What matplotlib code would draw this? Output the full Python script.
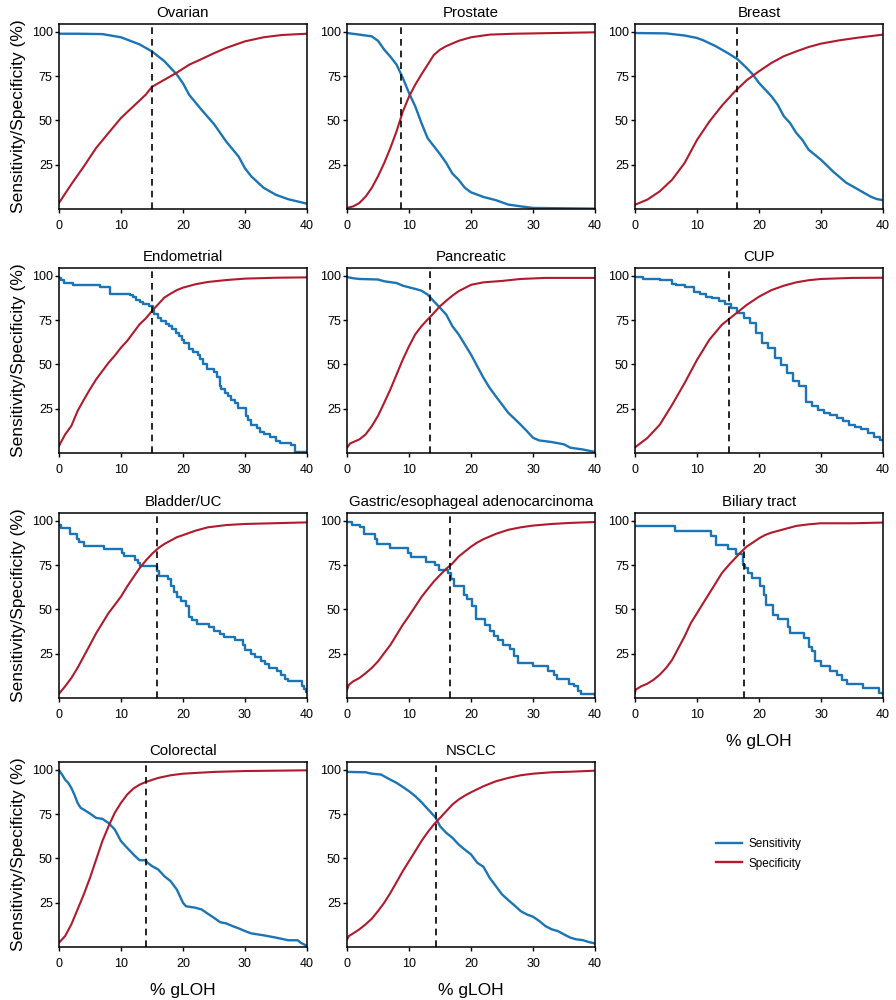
import matplotlib
matplotlib.use("Agg")
import matplotlib.pyplot as plt
from matplotlib.lines import Line2D

plt.rcParams['font.family'] = ['Liberation Sans', 'DejaVu Sans']

BLUE = '#1a74b6'
RED = '#b01a2c'

# ---- data ----
# Ovarian
ov_sens_x = [0, 3, 7, 10, 13, 15, 17, 19, 20, 21, 23, 25, 27, 29, 30, 31, 33, 35, 37, 40]
ov_sens_y = [99, 99, 98.8, 97, 93, 89, 83.5, 76, 71, 64.5, 56, 48, 38, 29.5, 23, 18.5, 12, 8, 5.5, 3]
ov_spec_x = [0, 2, 4, 6, 8, 10, 12, 14, 15, 17, 19, 21, 23, 25, 27, 30, 33, 36, 40]
ov_spec_y = [3.4, 14, 24, 34.5, 43, 51.4, 58, 64.6, 69, 73, 77, 81.5, 84.7, 88, 91, 94.7, 97, 98.3, 99]

# Prostate
pr_sens_x = [0, 2, 4, 5, 6, 7, 8, 9, 10, 11, 12, 13, 14, 15, 16, 17, 18, 19, 20, 22, 24, 26, 28, 30, 40]
pr_sens_y = [99.4, 98.5, 97.5, 95, 90, 86, 81.5, 74, 65.5, 58, 48.6, 40, 35.5, 31, 26, 20, 16.5, 12, 9.4, 6.8, 5, 2.5, 1.5, 0.6, 0.2]
pr_spec_x = [0, 1, 2, 3, 4, 5, 6, 7, 8, 9, 10, 11, 12, 13, 14, 15, 16, 18, 20, 23, 27, 40]
pr_spec_y = [0.6, 1.5, 3.4, 7, 12, 18.5, 26, 34.5, 44, 55, 63.5, 70.2, 76, 81.5, 87, 90, 92, 95, 97, 98.5, 99, 99.8]

# Breast
br_sens_x = [0, 5, 8, 10, 11, 13, 15, 16.5, 18, 19, 20, 22, 23, 24, 25, 26, 27, 28, 30, 32, 34, 36, 38, 39, 40]
br_sens_y = [99.4, 99.2, 98, 96.6, 95.3, 92, 88, 84.7, 79.7, 76, 71.2, 63.7, 59, 52.4, 48.6, 43, 39, 33.5, 27.8, 21, 15, 11, 7, 5.6, 5]
br_spec_x = [0, 2, 4, 6, 8, 10, 12, 14, 16, 18, 20, 22, 24, 26, 28, 30, 33, 36, 40]
br_spec_y = [2.4, 5.3, 10, 16.6, 26, 39, 49.4, 58.3, 66, 72.7, 77.8, 82.5, 86.3, 89, 91.5, 93.4, 95.3, 96.8, 98.5]

# Endometrial (sensitivity as steps)
en_sens_x = [0, 0.4, 0.8, 2.2, 6.6, 8.3, 11.5, 12, 12.5, 13, 13.6, 14.5, 15.1, 15.4, 15.9, 16.5, 17.2, 17.8,
             18.3, 18.8, 19.3, 19.8, 20.2, 21, 21.6, 22.4, 22.8, 23.3, 23.8, 25, 25.5, 25.9, 26.2, 26.8, 27.3,
             27.8, 28.4, 28.8, 30.2, 30.5, 31, 32, 32.5, 33, 34, 35, 35.6, 37.4, 38, 40]
en_sens_y = [99, 97.5, 96, 95, 93.5, 90, 89, 88, 86.5, 85.5, 84, 83, 81, 78.5, 76, 74.5, 73, 72,
             70, 68, 66, 64, 62, 59, 57, 55.5, 53, 50, 47.5, 45.5, 43, 38, 36, 34, 32,
             30, 28, 25.5, 21, 18.5, 16, 14, 12, 10.5, 9, 7, 5.5, 4.5, 0.5, 0.5]
en_spec_x = [0, 1, 2, 3, 4, 5, 6, 7, 8, 9, 10, 11, 12, 13, 14, 15, 16, 17, 18, 19, 20, 22, 24, 27, 30, 35, 40]
en_spec_y = [4, 10.5, 15.3, 23.7, 30, 36, 41.6, 46.3, 51, 55, 59.5, 63.3, 68, 72.7, 76, 80.2, 84, 87.8, 90, 92, 93.4,
             95.3, 96.6, 97.7, 98.5, 99, 99.2]

# Pancreatic
pa_sens_x = [0, 1, 2, 5, 6, 8, 9, 10, 11, 12, 13, 14, 15, 16, 17, 18, 19, 20, 21, 22, 23, 24, 25, 26, 27, 28,
             29, 30, 31, 33, 35, 36, 38, 40]
pa_sens_y = [99.4, 98.7, 98.3, 98, 97, 96, 94.5, 93.6, 92.7, 91.7, 89.5, 85.7, 82, 78.2, 71.6, 67, 61.3, 55.6,
             49, 42.5, 36.8, 32, 27.4, 22.7, 19.4, 16, 12.4, 8.6, 7.1, 6.2, 4.9, 3, 2, 0.6]
pa_spec_x = [0, 0.5, 2, 3, 4, 5, 6, 7, 8, 9, 10, 11, 12, 13, 14, 15, 16, 17, 18, 19, 20, 22, 25, 28, 32, 40]
pa_spec_y = [3, 5.4, 7.7, 10.5, 15.2, 21, 28.4, 36, 44.4, 52.8, 60.3, 67, 71.6, 75.4, 79.1, 82.9, 86, 88.9,
             91.4, 93.2, 95, 96.4, 97.2, 98.3, 98.9, 98.9]

# CUP
cu_sens_x = [0, 2.5, 5.7, 6.2, 7, 9, 10, 11, 12, 13, 14, 15, 16, 17, 18, 19, 20, 21, 22, 23, 24, 25, 26, 27,
             28, 29, 30, 31, 32, 33, 34, 35, 36, 37, 38, 39, 40]
cu_sens_y = [99.2, 98.3, 97.7, 95.3, 94.7, 94, 91.2, 89.7, 88.3, 87.4, 85.9, 84, 81.8, 78.9, 76, 73.3, 67.7,
             62, 59.2, 53.6, 49.8, 45, 40.4, 37.6, 29, 26.3, 24.4, 22.6, 21.2, 20, 17.9, 16, 14.5, 13.5, 11.3,
             8.8, 7.5]
cu_spec_x = [0, 2, 4, 6, 8, 10, 12, 14, 15.2, 16, 18, 20, 22, 24, 26, 28, 30, 35, 40]
cu_spec_y = [3.2, 8.5, 16, 27.3, 39.5, 52.6, 64, 72.4, 75.8, 78, 83.6, 88.3, 92, 94.5, 96.4, 97.6, 98.3, 98.9, 99]

# Bladder/UC (sensitivity as steps)
bl_sens_x = [0, 0.3, 1.8, 2.9, 3.3, 4, 7.3, 10.2, 10.5, 12.3, 12.8, 13.1, 15.8, 16.2, 17.6, 18, 18.5, 19,
             19.7, 20.5, 20.9, 21.5, 22.3, 24.2, 25, 26, 26.6, 28.4, 29.7, 30, 31, 31.6, 32.6, 33.3, 33.8,
             35.2, 35.8, 36.4, 37, 39.2, 39.6, 39.9, 40]
bl_sens_y = [98, 96, 92.5, 90, 88, 86, 84, 82, 80, 78, 76, 74.5, 72, 69, 67, 63.5, 60, 57,
             55, 52, 46, 44, 42, 40, 38, 36, 34.5, 32.5, 30, 27, 25, 23, 21, 19, 17,
             15.5, 13, 11, 9.5, 7, 5, 3.5, 3.5]
bl_spec_x = [0, 1, 2, 3, 4, 5, 6, 7, 8, 9, 10, 11, 12, 13, 14, 15, 16, 17, 18, 19, 20, 22, 24, 27, 30, 40]
bl_spec_y = [2.4, 6.6, 11.3, 17, 23.5, 30, 36.6, 42.3, 48, 52.6, 57.3, 63, 68.2, 73.3, 77.6, 81.4, 84.6, 87,
             88.9, 90.8, 92, 94.5, 96.4, 97.7, 98.3, 99.2]

# Gastric/esophageal adenocarcinoma (sensitivity as steps)
ga_sens_x = [0, 0.8, 2.1, 2.7, 4.5, 4.9, 7, 9.8, 10.3, 12.8, 14.2, 14.8, 16.3, 16.8, 17.3, 18.8, 19.4, 20.2,
             20.8, 22.3, 23, 23.7, 24.4, 25.2, 26.3, 27, 27.5, 30, 32.4, 33.4, 33.8, 35.8, 36.6, 37.2, 37.8, 40]
ga_sens_y = [99.2, 98, 96.5, 92.5, 90, 87, 85, 82, 79.5, 77, 75, 72.5, 70.5, 67, 63, 58, 56, 52,
             44.5, 41, 38, 35, 33, 30, 27.5, 24, 20, 18, 15, 13, 10.5, 8, 6.5, 4, 2, 1.5]
ga_spec_x = [0, 0.3, 1, 2, 3, 4, 5, 6, 7, 8, 9, 10, 11, 12, 13, 14, 15, 16, 17, 18, 19, 20, 21, 22, 24, 26,
             28, 30, 33, 36, 40]
ga_spec_y = [4.7, 7.5, 9.4, 11.3, 14, 17, 20.7, 25.4, 30, 35.7, 41.4, 46.4, 51.7, 57, 61.5, 65.8, 69.5, 73,
             76, 79.9, 82.7, 85.5, 87.8, 89.7, 92.7, 95, 96.4, 97.4, 98.3, 98.9, 99.4]

# Biliary tract (sensitivity as steps)
bi_sens_x = [0, 6.5, 12.3, 13, 15, 16.3, 17.4, 17.8, 18.3, 18.8, 20.1, 20.8, 21.2, 22.3, 23, 24.6, 25, 27.3,
             28, 28.6, 29, 30, 31.5, 32.5, 33.4, 34.2, 36.8, 39.3, 40]
bi_sens_y = [97.4, 94.4, 91.7, 86.5, 84, 81.2, 75, 73.3, 70.6, 68, 63, 58, 52.6, 47, 44.5, 40, 36.8, 34,
             29, 26.6, 21, 18.2, 15.5, 13, 10.3, 8, 5.4, 3, 2]
bi_spec_x = [0, 0.1, 1, 2, 3, 4, 5, 6, 7, 8, 9, 10, 11, 12, 13, 14, 15, 16, 17, 18, 19, 20, 21, 22, 24, 26,
             28, 30, 35, 40]
bi_spec_y = [2.8, 4.7, 6.6, 8.1, 10.3, 13.2, 16.9, 21.6, 28.2, 34.8, 42.3, 47.9, 53.6, 59.2, 64.8, 70.5,
             74.6, 78.4, 82.1, 85.5, 87.8, 90.2, 92.1, 93.4, 95.3, 97.2, 98.1, 98.7, 98.7, 99.1]

# Colorectal
co_sens_x = [0, 0.5, 1, 1.5, 2, 2.5, 3, 3.5, 4, 5, 6, 7, 8, 9, 10, 10.5, 11, 12, 13, 14, 14.3, 15, 16, 17,
             18, 19, 20, 20.5, 22, 23, 24, 25, 26, 27, 28, 29, 30, 31, 33, 35, 37, 38.5, 39, 40]
co_sens_y = [99.8, 97.4, 94.5, 92.7, 89.8, 86, 81.4, 78.6, 77.6, 75.4, 72.9, 72.4, 70, 66.4, 59.8, 57.9, 56,
             52.3, 49, 49, 47.6, 45.7, 43.8, 40, 37.2, 32.5, 25, 23, 22.2, 21.2, 18.8, 16.5, 14, 13.3, 11.8,
             10.5, 9, 7.7, 6.6, 5.3, 3.8, 3.8, 2.4, 0.6]
co_spec_x = [0, 1, 2, 3, 4, 5, 6, 7, 8, 9, 10, 11, 12, 13, 14, 16, 18, 20, 25, 30, 40]
co_spec_y = [2.4, 6.2, 12.8, 21.2, 29.7, 39, 49.4, 59.8, 68.2, 75.8, 81.4, 86.1, 89.5, 91.7, 93.2, 95.5, 97,
             97.9, 98.9, 99.4, 99.8]

# NSCLC
ns_sens_x = [0, 3, 4, 5.5, 6, 7, 8, 9, 10, 11, 12, 13, 14, 14.3, 15, 16, 17, 18, 19, 20, 21, 22, 23, 24, 25,
             26, 27, 28, 29, 30, 31, 32, 33, 34, 35, 36, 37, 38, 39, 40]
ns_sens_y = [98.9, 98.7, 97.9, 97.4, 96.4, 94.5, 92.7, 90.4, 88, 85.2, 81.8, 78, 74.2, 73, 68.2, 64.5, 61.7,
             57.9, 55, 52.3, 47.6, 45.3, 39.1, 34.4, 29.7, 26.5, 23.5, 20.3, 18.4, 17.1, 14.7, 11.8, 10, 9,
             7.1, 5.3, 4.3, 3.9, 2.8, 2]
ns_spec_x = [0, 0.3, 1, 2, 3, 4, 5, 6, 7, 8, 9, 10, 11, 12, 13, 14, 15, 16, 17, 18, 19, 20, 22, 24, 26, 28,
             30, 33, 36, 40]
ns_spec_y = [4.3, 6.2, 7.7, 10, 12.8, 16, 20.3, 25, 30.6, 36.7, 42.9, 48.5, 54.1, 59.8, 64.8, 69.2, 72.9,
             76.7, 80.5, 83.3, 85.5, 87.4, 90.8, 93.6, 95.5, 97, 97.9, 98.7, 99, 99.6]

titles = ['Ovarian', 'Prostate', 'Breast', 'Endometrial', 'Pancreatic', 'CUP',
          'Bladder/UC', 'Gastric/esophageal adenocarcinoma', 'Biliary tract', 'Colorectal', 'NSCLC']
cutoffs = [15, 8.7, 16.5, 15, 13.4, 15.2, 15.8, 16.6, 17.5, 14.1, 14.3]

panels = [
    (ov_sens_x, ov_sens_y, ov_spec_x, ov_spec_y, 'default'),
    (pr_sens_x, pr_sens_y, pr_spec_x, pr_spec_y, 'default'),
    (br_sens_x, br_sens_y, br_spec_x, br_spec_y, 'default'),
    (en_sens_x, en_sens_y, en_spec_x, en_spec_y, 'steps-post'),
    (pa_sens_x, pa_sens_y, pa_spec_x, pa_spec_y, 'default'),
    (cu_sens_x, cu_sens_y, cu_spec_x, cu_spec_y, 'steps-mid'),
    (bl_sens_x, bl_sens_y, bl_spec_x, bl_spec_y, 'steps-post'),
    (ga_sens_x, ga_sens_y, ga_spec_x, ga_spec_y, 'steps-post'),
    (bi_sens_x, bi_sens_y, bi_spec_x, bi_spec_y, 'steps-post'),
    (co_sens_x, co_sens_y, co_spec_x, co_spec_y, 'default'),
    (ns_sens_x, ns_sens_y, ns_spec_x, ns_spec_y, 'default'),
]

fig = plt.figure(figsize=(8.96, 10), dpi=100)

col_left = [0.0658, 0.3873, 0.7087]
row_bottom = [0.791, 0.547, 0.302, 0.053]
w, h = 0.2768, 0.185

for i, (sx, sy, px, py, ds) in enumerate(panels):
    r, c = divmod(i, 3)
    ax = fig.add_axes([col_left[c], row_bottom[r], w, h])
    ax.plot(sx, sy, color=BLUE, lw=1.7, drawstyle=ds)
    ax.plot(px, py, color=RED, lw=1.5)
    ax.axvline(cutoffs[i], color='black', lw=1.2, ls=(0, (4, 3)))
    ax.set_xlim(0, 40)
    ax.set_ylim(0, 104.5)
    ax.set_xticks([0, 10, 20, 30, 40])
    ax.set_yticks([25, 50, 75, 100])
    ax.tick_params(direction='out', length=3, width=1, labelsize=9)
    ax.tick_params(axis='y', pad=1.5)
    ax.tick_params(axis='x', pad=5)
    for s in ax.spines.values():
        s.set_linewidth(1.1)
    ax.set_title(titles[i], fontsize=10.8, pad=5)
    if c == 0:
        ax.set_ylabel('Sensitivity/Specificity (%)', fontsize=12.5, labelpad=4)
    if i in (8, 9, 10):
        ax.set_xlabel('% gLOH', fontsize=12.5, labelpad=9)

handles = [Line2D([], [], color=BLUE, lw=1.7), Line2D([], [], color=RED, lw=1.7)]
fig.legend(handles, ['Sensitivity', 'Specificity'], loc='center left',
           bbox_to_anchor=(0.787, 0.146), frameon=False, fontsize=8.5,
           handlelength=2.2, handletextpad=0.6, labelspacing=0.6)

fig.savefig('out.png', dpi=100)
